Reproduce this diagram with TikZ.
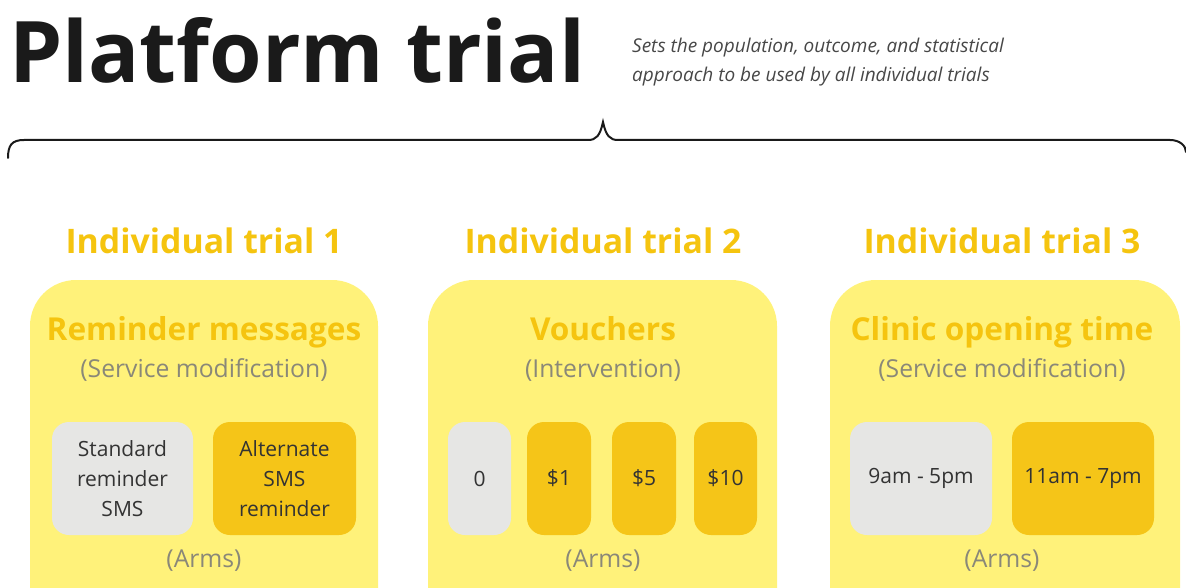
\documentclass[tikz,border=0pt]{standalone}
\usepackage{fontspec}
\setmainfont{Open Sans}
\definecolor{gold}{HTML}{F5C518}
\definecolor{goldtxt}{HTML}{F5C40F}
\definecolor{lightyel}{HTML}{FFF27A}
\definecolor{armgray}{HTML}{E6E6E4}
\definecolor{subgray}{HTML}{8A8878}
\definecolor{darktxt}{HTML}{333333}
\definecolor{titleblack}{HTML}{1A1A1A}
\newcommand{\fs}[1]{\fontsize{#1}{#1}\selectfont}
\tikzset{
  x=1pt, y=-1pt,
  trialbox/.style={fill=lightyel, rounded corners=46pt, draw=none},
  armbox/.style={rounded corners=17pt, draw=none, inner sep=0pt},
  ctrlarm/.style={armbox, fill=armgray},
  txarm/.style={armbox, fill=gold},
  armtext/.style={text=darktxt, font=\fontsize{21}{30}\selectfont, align=center},
  triallabel/.style={text=goldtxt, font=\bfseries\fs{33.8}, inner sep=0pt, anchor=base},
  boxtitle/.style={text=goldtxt, font=\bfseries\fs{31.6}, inner sep=0pt, anchor=base},
  boxsub/.style={text=subgray, font=\fs{24.7}, inner sep=0pt, anchor=base},
}
\begin{document}
\begin{tikzpicture}
\useasboundingbox (0,0) rectangle (1186,588);
\clip (0,0) rectangle (1186,588);
% title
\node[anchor=base west, inner sep=0pt, text=titleblack, font=\bfseries\fs{85}] (title) at (9,83) {Platform trial};
\node[anchor=base west, inner sep=0pt, text=darktxt!90, font=\itshape\fs{19}, align=left] (desc) at (632,53) {Sets the population, outcome, and statistical};
\node[anchor=base west, inner sep=0pt, text=darktxt!90, font=\itshape\fs{19}, align=left] (desc2) at (632,82) {approach to be used by all individual trials};
% brace
\coordinate (bl) at (8,158);
\coordinate (bt) at (603,122);
\coordinate (br) at (1186,152);
\draw[line width=2pt, titleblack, line cap=round] (bl) .. controls (8,145) and (12,140) .. (24,140) -- (588,140) .. controls (596,140) and (600,136) .. (bt) .. controls (606,136) and (610,140) .. (618,140) -- (1170,140) .. controls (1180,140) and (1186,146) .. (br);
% trial labels
\node[triallabel] (t1) at (204,253) {Individual trial 1};
\node[triallabel] (t2) at (603,253) {Individual trial 2};
\node[triallabel] (t3) at (1002,253) {Individual trial 3};
% trial boxes
\fill[trialbox] (30,280) rectangle (378,640);
\fill[trialbox] (428,280) rectangle (777,640);
\fill[trialbox] (830,280) rectangle (1180,640);
% box 1
\node[boxtitle] (b1t) at (204,340) {Reminder messages};
\node[boxsub] (b1s) at (204,377) {(Service modification)};
\node[ctrlarm, minimum width=141pt, minimum height=113pt] (a11) at (122.5,478.5) {};
\node[txarm, minimum width=143pt, minimum height=113pt] (a12) at (284.5,478.5) {};
\node[armtext] at (a11) {Standard\\reminder\\SMS};
\node[armtext] at (a12) {Alternate\\SMS\\reminder};
\node[boxsub] (b1a) at (204,567) {(Arms)};
% box 2
\node[boxtitle] (b2t) at (603,340) {Vouchers};
\node[boxsub] (b2s) at (603,377) {(Intervention)};
\node[ctrlarm, minimum width=63pt, minimum height=113pt] (a21) at (479.5,478.5) {};
\node[txarm, minimum width=64pt, minimum height=113pt] (a22) at (559,478.5) {};
\node[txarm, minimum width=64pt, minimum height=113pt] (a23) at (644,478.5) {};
\node[txarm, minimum width=63pt, minimum height=113pt] (a24) at (725.5,478.5) {};
\node[armtext] at (a21) {0};
\node[armtext] at (a22) {\$1};
\node[armtext] at (a23) {\$5};
\node[armtext] at (a24) {\$10};
\node[boxsub] (b2a) at (603,567) {(Arms)};
% box 3
\node[boxtitle] (b3t) at (1002,340) {Clinic opening time};
\node[boxsub] (b3s) at (1002,377) {(Service modification)};
\node[ctrlarm, minimum width=142pt, minimum height=113pt] (a31) at (921,478.5) {};
\node[txarm, minimum width=142pt, minimum height=113pt] (a32) at (1083,478.5) {};
\node[armtext] at (a31) {9am - 5pm};
\node[armtext] at (a32) {11am - 7pm};
\node[boxsub] (b3a) at (1002,567) {(Arms)};
\end{tikzpicture}
\end{document}
